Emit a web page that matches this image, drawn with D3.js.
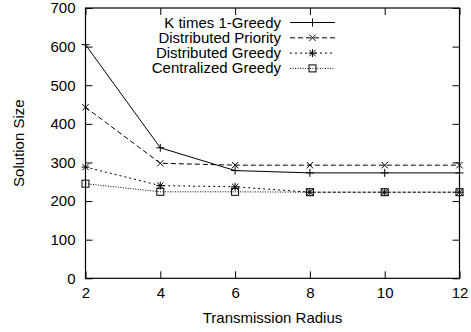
<!DOCTYPE html>
<html>
<head>
<meta charset="utf-8">
<script src="https://cdn.jsdelivr.net/npm/d3@7"></script>
<style>
body { margin: 0; background: #fff; }
text { font-family: "Liberation Sans", Arial, sans-serif; fill: #000; }
</style>
</head>
<body>
<svg id="chart" width="471" height="332"></svg>
<script>
var radius = [2, 4, 6, 8, 10, 12];
var kTimesGreedy = [605, 338, 279, 273, 273, 273];
var distPriority = [443, 298, 293, 293, 293, 293];
var distGreedy = [288, 240, 237, 223, 223, 223];
var centralGreedy = [245, 224, 224, 223, 223, 223];
var yTicks = [0, 100, 200, 300, 400, 500, 600, 700];

var FONT = 15;

var series = [
    {name: "K times 1-Greedy", values: kTimesGreedy, dash: null, mark: "plus"},
    {name: "Distributed Priority", values: distPriority, dash: "5,3", mark: "cross"},
    {name: "Distributed Greedy", values: distGreedy, dash: "2,3", mark: "star"},
    {name: "Centralized Greedy", values: centralGreedy, dash: "1,1.5", mark: "square"}
];

var svg = d3.select("#chart");
var plotLeft = 85.5, plotRight = 459.5, plotTop = 8, plotBottom = 278.3;

var x = d3.scaleLinear().domain([2, 12]).range([plotLeft, plotRight]);
var y = d3.scaleLinear().domain([0, 700]).range([plotBottom, plotTop]);

// axes with inward ticks, mirrored on the opposite side
svg.append("g").attr("transform", "translate(0," + plotBottom + ")")
    .call(d3.axisBottom(x).tickValues(radius).tickSizeInner(-7).tickSizeOuter(0).tickPadding(9))
    .call(function (g) { g.select(".domain").remove(); g.selectAll("text").attr("font-size", FONT); });
svg.append("g").attr("transform", "translate(0," + plotTop + ")")
    .call(d3.axisTop(x).tickValues(radius).tickSizeInner(-7).tickSizeOuter(0).tickFormat(""))
    .call(function (g) { g.select(".domain").remove(); });
svg.append("g").attr("transform", "translate(" + plotLeft + ",0)")
    .call(d3.axisLeft(y).tickValues(yTicks).tickSizeInner(-7).tickSizeOuter(0).tickPadding(10))
    .call(function (g) { g.select(".domain").remove(); g.selectAll("text").attr("font-size", FONT); });
svg.append("g").attr("transform", "translate(" + plotRight + ",0)")
    .call(d3.axisRight(y).tickValues(yTicks).tickSizeInner(-7).tickSizeOuter(0).tickFormat(""))
    .call(function (g) { g.select(".domain").remove(); });

svg.selectAll(".tick line").attr("stroke", "#000");

svg.append("rect")
    .attr("x", plotLeft).attr("y", plotTop)
    .attr("width", plotRight - plotLeft).attr("height", plotBottom - plotTop)
    .attr("fill", "none").attr("stroke", "#000").attr("stroke-width", 1.2);

svg.append("text")
    .attr("transform", "translate(24," + ((plotTop + plotBottom) / 2) + ") rotate(-90)")
    .attr("text-anchor", "middle").attr("font-size", FONT)
    .text("Solution Size");
svg.append("text")
    .attr("x", (plotLeft + plotRight) / 2).attr("y", 323)
    .attr("text-anchor", "middle").attr("font-size", FONT)
    .text("Transmission Radius");

function drawMark(g, kind, cx, cy)
{
    var s = 4;
    if (kind == "plus" || kind == "star")
    {
        g.append("path").attr("d", "M" + (cx - s) + "," + cy + "H" + (cx + s) + "M" + cx + "," + (cy - s) + "V" + (cy + s));
    }
    if (kind == "cross" || kind == "star")
    {
        var d = s * 0.8;
        g.append("path").attr("d", "M" + (cx - d) + "," + (cy - d) + "L" + (cx + d) + "," + (cy + d) +
            "M" + (cx - d) + "," + (cy + d) + "L" + (cx + d) + "," + (cy - d));
    }
    if (kind == "square")
    {
        g.append("rect").attr("x", cx - 3.5).attr("y", cy - 3.5).attr("width", 7).attr("height", 7).attr("fill", "none");
    }
}

var line = d3.line()
    .x(function (d, i) { return x(radius[i]); })
    .y(function (d) { return y(d); });

series.forEach(function (s, k)
{
    var g = svg.append("g").attr("stroke", "#000").attr("stroke-width", 1).attr("fill", "none");
    g.append("path").attr("d", line(s.values)).attr("stroke-dasharray", s.dash);
    s.values.forEach(function (v, i) { drawMark(g, s.mark, x(radius[i]), y(v)); });

    // legend row
    var ly = 22.5 + k * 15.3;
    svg.append("text").attr("x", 281).attr("y", ly + 5)
        .attr("text-anchor", "end").attr("font-size", FONT).text(s.name);
    var lg = svg.append("g").attr("stroke", "#000").attr("stroke-width", 1).attr("fill", "none");
    lg.append("path").attr("d", "M290," + ly + "H335").attr("stroke-dasharray", s.dash);
    drawMark(lg, s.mark, 312.5, ly);
});
</script>
</body>
</html>
